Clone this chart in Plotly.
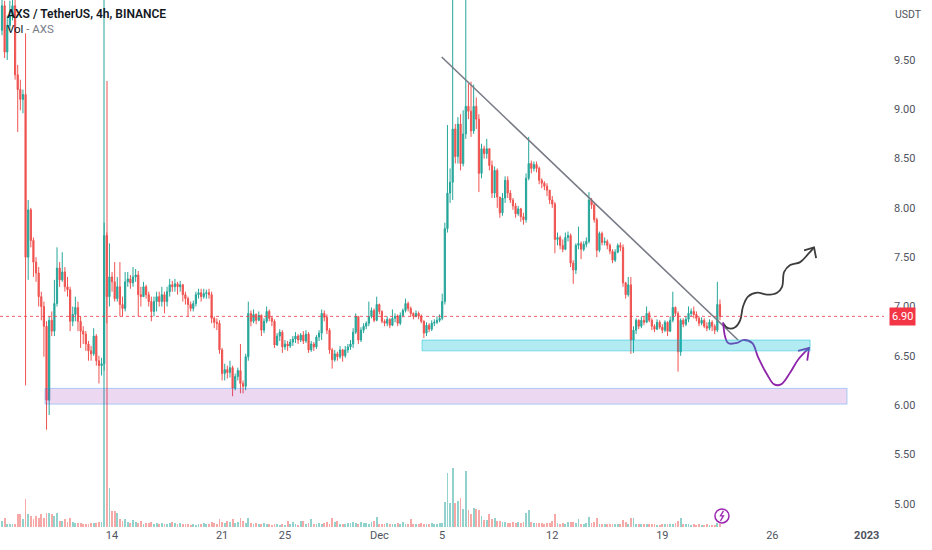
import pandas as pd
import plotly.graph_objects as go

# ==========================================================
# DATA - AXS / USDT 4h candles, 7 Nov -> 22 Dec 2022 (one line = one day)
# ==========================================================
first_open = 9.80

closes = [
    10.05, 9.58, 9.85, 9.95, 10.05, 9.35,   # Nov 7
    9.20, 9.10, 9.15, 7.50, 7.98, 7.67,     # Nov 8
    7.45, 7.34, 7.10, 7.00, 6.80, 6.05,     # Nov 9
    6.86, 6.75, 7.03, 7.39, 7.27, 7.35,     # Nov 10
    7.20, 7.17, 6.85, 6.92, 6.99, 6.85,     # Nov 11
    6.75, 6.72, 6.62, 6.55, 6.52, 6.70,     # Nov 12
    6.45, 6.40, 6.42, 7.72, 7.10, 7.30,     # Nov 13
    7.25, 7.08, 7.20, 7.02, 6.98, 7.25,     # Nov 14
    7.28, 7.24, 7.30, 7.32, 7.12, 7.10,     # Nov 15
    7.20, 7.12, 7.05, 6.95, 7.05, 7.10,     # Nov 16
    7.05, 7.12, 7.05, 7.15, 7.22, 7.20,     # Nov 17
    7.23, 7.20, 7.22, 7.12, 7.08, 7.02,     # Nov 18
    6.98, 7.03, 7.12, 7.14, 7.10, 7.13,     # Nov 19
    7.14, 7.12, 6.88, 6.84, 6.83, 6.56,     # Nov 20
    6.32, 6.36, 6.33, 6.38, 6.17, 6.29,     # Nov 21
    6.35, 6.22, 6.19, 6.49, 6.93, 6.85,     # Nov 22
    6.92, 6.86, 6.91, 6.76, 6.85, 6.95,     # Nov 23
    6.88, 6.85, 6.61, 6.70, 6.74, 6.59,     # Nov 24
    6.62, 6.60, 6.64, 6.67, 6.70, 6.66,     # Nov 25
    6.71, 6.65, 6.72, 6.56, 6.62, 6.59,     # Nov 26
    6.69, 6.73, 6.93, 6.89, 6.76, 6.56,     # Nov 27
    6.46, 6.52, 6.49, 6.56, 6.50, 6.56,     # Nov 28
    6.59, 6.62, 6.74, 6.90, 6.66, 6.76,     # Nov 29
    6.80, 6.83, 6.90, 6.96, 6.86, 7.02,     # Nov 30
    6.95, 6.85, 6.83, 6.87, 6.81, 6.88,     # Dec 1
    6.90, 6.83, 6.91, 6.96, 7.03, 6.98,     # Dec 2
    6.93, 6.90, 6.93, 6.90, 6.85, 6.73,     # Dec 3
    6.81, 6.77, 6.83, 6.84, 6.86, 6.88,     # Dec 4
    7.05, 7.79, 8.15, 8.26, 8.80, 8.52,     # Dec 5
    8.85, 8.45, 8.75, 9.03, 8.98, 8.78,     # Dec 6
    9.03, 8.90, 8.35, 8.60, 8.55, 8.60,     # Dec 7
    8.43, 8.15, 8.38, 8.11, 7.95, 8.10,     # Dec 8
    8.28, 8.15, 8.08, 8.02, 7.94, 7.99,     # Dec 9
    7.91, 7.88, 8.30, 8.45, 8.40, 8.44,     # Dec 10
    8.40, 8.28, 8.25, 8.22, 8.18, 8.08,     # Dec 11
    8.04, 7.68, 7.70, 7.62, 7.58, 7.70,     # Dec 12
    7.72, 7.44, 7.37, 7.62, 7.64, 7.58,     # Dec 13
    7.63, 7.66, 8.08, 8.03, 7.88, 7.57,     # Dec 14
    7.74, 7.65, 7.66, 7.62, 7.56, 7.47,     # Dec 15
    7.55, 7.62, 7.60, 7.24, 7.12, 7.22,     # Dec 16
    6.66, 6.76, 6.86, 6.80, 6.86, 6.84,     # Dec 17
    6.93, 6.86, 6.80, 6.77, 6.84, 6.79,     # Dec 18
    6.76, 6.84, 6.75, 6.86, 6.99, 6.93,     # Dec 19
    6.54, 6.86, 6.82, 6.87, 6.93, 6.95,     # Dec 20
    6.92, 6.88, 6.83, 6.86, 6.80, 6.78,     # Dec 21
    6.84, 6.80, 6.76, 7.02, 6.90,           # Dec 22
]

highs = [
    10.15, 10.10, 9.95, 10.10, 10.20, 10.15,
    9.45, 9.30, 9.20, 9.77, 8.08, 8.00,
    7.70, 7.50, 7.40, 7.15, 7.05, 6.85,
    6.90, 6.95, 7.27, 7.60, 7.45, 7.55,
    7.40, 7.30, 7.20, 7.00, 7.10, 7.05,
    6.90, 6.80, 6.75, 6.65, 6.60, 6.78,
    6.72, 6.50, 6.48, 7.85, 7.75, 7.64,
    7.35, 7.45, 7.30, 7.45, 7.10, 7.35,
    7.35, 7.32, 7.40, 7.38, 7.36, 7.20,
    7.25, 7.22, 7.15, 7.10, 7.10, 7.15,
    7.15, 7.20, 7.15, 7.20, 7.28, 7.26,
    7.28, 7.25, 7.26, 7.23, 7.15, 7.10,
    7.05, 7.06, 7.15, 7.18, 7.18, 7.18,
    7.17, 7.18, 7.15, 6.90, 6.88, 6.86,
    6.58, 6.42, 6.40, 6.45, 6.40, 6.32,
    6.38, 6.62, 6.25, 6.52, 7.05, 6.96,
    6.97, 6.93, 6.95, 6.92, 6.88, 7.00,
    6.97, 6.90, 6.87, 6.73, 6.77, 6.76,
    6.66, 6.65, 6.67, 6.70, 6.74, 6.72,
    6.73, 6.75, 6.76, 6.74, 6.65, 6.64,
    6.71, 6.76, 6.97, 6.96, 6.92, 6.78,
    6.58, 6.56, 6.54, 6.60, 6.57, 6.60,
    6.62, 6.66, 6.78, 6.93, 6.90, 6.79,
    6.83, 6.85, 7.05, 6.99, 6.98, 7.10,
    7.03, 6.96, 6.87, 6.90, 6.88, 6.97,
    6.93, 6.92, 6.94, 6.98, 7.08, 7.05,
    7.00, 6.94, 6.96, 6.95, 6.92, 6.86,
    6.84, 6.83, 6.86, 6.87, 6.90, 6.92,
    7.13, 7.85, 8.84, 8.40, 10.25, 8.85,
    8.92, 8.95, 8.99, 10.25, 9.26, 9.28,
    9.25, 9.12, 8.95, 8.65, 8.63, 8.70,
    8.60, 8.48, 8.42, 8.40, 8.10, 8.15,
    8.32, 8.32, 8.18, 8.10, 8.05, 8.02,
    8.00, 7.95, 8.35, 8.72, 8.48, 8.47,
    8.47, 8.42, 8.30, 8.27, 8.25, 8.18,
    8.12, 8.06, 7.75, 7.72, 7.68, 7.75,
    7.76, 7.74, 7.47, 7.64, 7.81, 7.66,
    7.66, 7.70, 8.16, 8.10, 8.05, 7.90,
    7.76, 7.76, 7.70, 7.68, 7.64, 7.58,
    7.58, 7.64, 7.65, 7.63, 7.25, 7.30,
    7.30, 6.80, 6.88, 6.87, 6.90, 6.90,
    7.00, 6.95, 6.88, 6.82, 6.87, 6.86,
    6.82, 6.86, 6.85, 6.90, 7.15, 7.00,
    6.95, 6.88, 6.88, 6.90, 7.00, 6.98,
    7.00, 6.95, 6.90, 6.89, 6.88, 6.84,
    6.87, 6.86, 6.82, 7.25, 7.07,
]

lows = [
    9.75, 9.52, 9.50, 9.80, 9.90, 9.30,
    8.77, 8.99, 8.96, 6.20, 7.27, 7.60,
    7.30, 7.25, 7.00, 6.86, 6.49, 5.75,
    5.90, 6.70, 6.70, 7.00, 7.20, 7.25,
    7.15, 7.10, 6.75, 6.80, 6.85, 6.75,
    6.58, 6.62, 6.55, 6.45, 6.45, 6.50,
    6.40, 6.22, 6.30, 6.35, 6.83, 7.00,
    7.15, 7.05, 7.05, 6.90, 6.90, 6.95,
    7.20, 7.18, 7.20, 7.25, 6.90, 7.00,
    7.10, 7.08, 7.00, 6.85, 6.90, 6.95,
    7.00, 7.00, 6.93, 7.00, 7.10, 7.15,
    7.15, 7.12, 7.15, 7.05, 7.02, 6.90,
    6.95, 6.95, 7.00, 7.08, 7.05, 7.08,
    7.08, 7.08, 6.83, 6.78, 6.76, 6.52,
    6.25, 6.25, 6.27, 6.28, 6.09, 6.15,
    6.25, 6.12, 6.12, 6.15, 6.45, 6.80,
    6.83, 6.82, 6.85, 6.70, 6.73, 6.83,
    6.85, 6.80, 6.58, 6.60, 6.65, 6.53,
    6.56, 6.55, 6.58, 6.60, 6.63, 6.62,
    6.64, 6.62, 6.63, 6.53, 6.54, 6.55,
    6.57, 6.65, 6.66, 6.85, 6.72, 6.52,
    6.37, 6.44, 6.45, 6.47, 6.44, 6.48,
    6.53, 6.56, 6.58, 6.72, 6.62, 6.64,
    6.73, 6.77, 6.80, 6.88, 6.84, 6.85,
    6.92, 6.83, 6.80, 6.80, 6.78, 6.80,
    6.84, 6.80, 6.81, 6.89, 6.94, 6.95,
    6.90, 6.87, 6.89, 6.87, 6.83, 6.68,
    6.70, 6.74, 6.75, 6.80, 6.82, 6.84,
    6.86, 7.02, 7.75, 8.05, 8.08, 8.45,
    8.45, 8.38, 8.42, 8.70, 8.90, 8.72,
    8.75, 8.80, 8.16, 8.30, 8.50, 8.50,
    8.38, 8.10, 8.10, 8.00, 7.90, 7.92,
    8.05, 8.10, 8.05, 7.98, 7.90, 7.92,
    7.86, 7.83, 7.85, 8.28, 8.35, 8.37,
    8.36, 8.24, 8.20, 8.18, 8.12, 8.04,
    8.00, 7.54, 7.62, 7.58, 7.55, 7.57,
    7.66, 7.40, 7.23, 7.33, 7.58, 7.48,
    7.56, 7.60, 7.64, 7.99, 7.85, 7.50,
    7.55, 7.62, 7.62, 7.58, 7.53, 7.44,
    7.45, 7.54, 7.56, 7.20, 7.08, 7.10,
    6.52, 6.53, 6.72, 6.77, 6.78, 6.81,
    6.83, 6.84, 6.76, 6.74, 6.76, 6.77,
    6.73, 6.74, 6.70, 6.74, 6.84, 6.90,
    6.34, 6.50, 6.79, 6.80, 6.84, 6.90,
    6.88, 6.85, 6.80, 6.81, 6.78, 6.75,
    6.76, 6.75, 6.72, 6.74, 6.86,
]

# volume (arbitrary units, overlay scale)
volumes = [
    6, 9, 3, 3, 3, 3,
    13, 13, 8, 28, 13, 11,
    8, 11, 9, 13, 9, 14,
    14, 13, 11, 14, 6, 6,
    8, 5, 9, 5, 4, 4,
    4, 3, 3, 3, 4, 4,
    4, 5, 5, 700, 446, 39,
    16, 16, 14, 8, 6, 8,
    5, 4, 7, 5, 4, 6,
    3, 4, 4, 5, 3, 4,
    3, 4, 3, 3, 4, 5,
    4, 3, 4, 3, 3, 3,
    2, 3, 2, 3, 3, 4,
    3, 3, 5, 4, 3, 8,
    5, 4, 6, 5, 8, 4,
    5, 9, 6, 4, 9, 4,
    3, 4, 3, 3, 4, 3,
    3, 2, 3, 3, 2, 3,
    2, 6, 3, 5, 3, 2,
    6, 6, 3, 4, 8, 3,
    3, 4, 3, 4, 5, 3,
    9, 5, 6, 3, 3, 3,
    4, 4, 5, 4, 3, 5,
    4, 4, 3, 5, 6, 10,
    3, 3, 3, 4, 3, 3,
    3, 4, 3, 5, 3, 3,
    8, 3, 3, 3, 4, 3,
    3, 3, 4, 3, 3, 4,
    4, 25, 54, 24, 59, 24,
    26, 29, 18, 56, 17, 13,
    19, 18, 17, 11, 7, 7,
    13, 8, 9, 6, 6, 5,
    5, 4, 4, 5, 4, 5,
    4, 5, 14, 17, 5, 4,
    4, 4, 4, 3, 4, 4,
    6, 13, 4, 3, 4, 3,
    5, 5, 5, 4, 8, 3,
    3, 4, 10, 4, 5, 9,
    3, 3, 3, 3, 3, 3,
    3, 3, 3, 7, 5, 3,
    9, 9, 3, 3, 3, 3,
    3, 3, 3, 3, 2, 2,
    3, 3, 3, 3, 3, 4,
    6, 9, 3, 3, 3, 2,
    3, 2, 3, 2, 2, 3,
    2, 2, 2, 4, 3,
]

last_price = 6.90
price_ticks = [5.0, 5.5, 6.0, 6.5, 7.0, 7.5, 8.0, 8.5, 9.0, 9.5]
date_ticks = ["2022-11-07", "2022-11-14", "2022-11-21", "2022-11-25", "2022-12-01",
              "2022-12-05", "2022-12-12", "2022-12-19", "2022-12-26", "2023-01-01"]
date_labels = ["7", "14", "21", "25", "Dec", "5", "12", "19", "26", "<b>2023</b>"]

# --- drawings (bar index from 7 Nov 00:00, price) ---
trend_bars = [167.8, 280.9]
trend_prices = [9.53, 6.66]

support_bars = [160.3, 308.4]
support_prices = [6.55, 6.66]
demand_bars = [16.4, 322.5]
demand_prices = [6.01, 6.17]

bull_bars = [275.2, 277.1, 279.8, 281.7, 282.8, 284.7, 288.2, 292.0, 295.8, 297.7, 298.5, 300.8, 304.6, 307.6, 309.9]
bull_prices = [6.83, 6.78, 6.79, 6.86, 7.00, 7.10, 7.14, 7.12, 7.14, 7.20, 7.35, 7.42, 7.45, 7.53, 7.60]
bull_head_bars = [306.1, 309.9, 310.7]
bull_head_prices = [7.57, 7.60, 7.49]

bear_bars = [275.2, 276.0, 277.1, 280.5, 282.8, 286.3, 288.5, 292.0, 294.7, 297.3, 300.8, 303.8, 308.0]
bear_prices = [6.84, 6.69, 6.63, 6.63, 6.66, 6.63, 6.49, 6.31, 6.21, 6.21, 6.33, 6.46, 6.58]
bear_head_bars = [303.8, 308.0, 307.3]
bear_head_prices = [6.55, 6.58, 6.45]

# ==========================================================
# FIGURE
# ==========================================================
UP = "#26a69a"
DOWN = "#ef5350"
AXIS_TXT = "#50535e"
FONT = "Roboto"

t0 = pd.Timestamp("2022-11-07")


def bar_time(b):
    return t0 + pd.Timedelta(hours=4 * b)


times = pd.date_range(t0, periods=len(closes), freq="4h")
opens = [first_open] + closes[:-1]
highs = [max(h, o, c) for h, o, c in zip(highs, opens, closes)]
lows = [min(l, o, c) for l, o, c in zip(lows, opens, closes)]
vol_colors = ["rgba(38,166,154,0.5)" if c >= o else "rgba(239,83,80,0.5)"
              for o, c in zip(opens, closes)]

fig = go.Figure()

# volume overlay
fig.add_trace(go.Bar(
    x=times, y=volumes, marker=dict(color=vol_colors, line=dict(width=0)),
    width=4 * 3600 * 1000 * 0.7, yaxis="y2", showlegend=False, hoverinfo="skip",
))

# candles
fig.add_trace(go.Candlestick(
    x=times, open=opens, high=highs, low=lows, close=closes,
    increasing=dict(line=dict(color=UP, width=1), fillcolor=UP),
    decreasing=dict(line=dict(color=DOWN, width=1), fillcolor=DOWN),
    whiskerwidth=0, showlegend=False,
))

# zones
fig.add_shape(type="rect", xref="x", yref="y",
              x0=bar_time(demand_bars[0]), x1=bar_time(demand_bars[1]),
              y0=demand_prices[0], y1=demand_prices[1],
              fillcolor="rgba(156,39,176,0.18)", line=dict(color="rgba(33,150,243,0.35)", width=1))
fig.add_shape(type="rect", xref="x", yref="y",
              x0=bar_time(support_bars[0]), x1=bar_time(support_bars[1]),
              y0=support_prices[0], y1=support_prices[1],
              fillcolor="rgba(0,188,212,0.30)", line=dict(color="rgba(0,188,212,0.45)", width=1))

# last price dotted line
fig.add_shape(type="line", xref="paper", yref="y", x0=0, x1=1, y0=last_price, y1=last_price,
              line=dict(color="rgba(242,54,69,0.8)", width=1, dash="dot"))

# trend line
fig.add_trace(go.Scatter(
    x=[bar_time(b) for b in trend_bars], y=trend_prices, mode="lines",
    line=dict(color="#787b86", width=1.6), showlegend=False, hoverinfo="skip",
))

# scenario arrows
for bars, prices, hb, hp, col in [
    (bull_bars, bull_prices, bull_head_bars, bull_head_prices, "#3d3d3d"),
    (bear_bars, bear_prices, bear_head_bars, bear_head_prices, "#8e24aa"),
]:
    fig.add_trace(go.Scatter(
        x=[bar_time(b) for b in bars], y=prices, mode="lines",
        line=dict(color=col, width=1.8, shape="spline", smoothing=1.0),
        showlegend=False, hoverinfo="skip",
    ))
    fig.add_trace(go.Scatter(
        x=[bar_time(b) for b in hb], y=hp, mode="lines",
        line=dict(color=col, width=1.8), showlegend=False, hoverinfo="skip",
    ))

# texts
fig.add_annotation(text="AXS / TetherUS, 4h, BINANCE", xref="paper", yref="paper",
                   x=0.006, y=1, xanchor="left", yanchor="top", yshift=-5, showarrow=False,
                   font=dict(family=FONT, size=12, color="#131722", weight=600))
fig.add_annotation(text="Vol <span style='color:#787b86'>- AXS</span>", xref="paper", yref="paper",
                   x=0.006, y=1, xanchor="left", yanchor="top", yshift=-20, showarrow=False,
                   font=dict(family=FONT, size=11.5, color="#131722"))
fig.add_annotation(text="USDT", xref="paper", yref="paper", x=1, y=1, xanchor="left",
                   yanchor="top", xshift=9, yshift=-6, showarrow=False,
                   font=dict(family=FONT, size=10.5, color=AXIS_TXT))
fig.add_annotation(text=f"{last_price:.2f}", xref="paper", yref="y", x=1, y=last_price,
                   xanchor="left", yanchor="middle", xshift=5, showarrow=False,
                   bgcolor="#f23645", borderpad=2,
                   font=dict(family=FONT, size=11, color="white"))

# event marker (lightning)
fig.add_shape(type="circle", xref="paper", yref="paper", xsizemode="pixel", ysizemode="pixel",
              xanchor=0.8167, yanchor=0.021, x0=-7, x1=7, y0=-7, y1=7,
              line=dict(color="#9c27b0", width=1.5), fillcolor="white")
fig.add_shape(type="path", xref="paper", yref="paper", xsizemode="pixel", ysizemode="pixel",
              xanchor=0.8167, yanchor=0.021, path="M 1.5,5 L -1.5,0 L 1.5,0 L -1.5,-5",
              line=dict(color="#9c27b0", width=1.3))

fig.update_layout(
    width=932, height=550,
    margin=dict(l=0, r=48, t=0, b=23),
    paper_bgcolor="white", plot_bgcolor="white",
    font=dict(family=FONT, size=11, color=AXIS_TXT),
    boxgap=0.35,
    bargap=0,
    xaxis=dict(
        type="date", rangeslider=dict(visible=False),
        range=[bar_time(-0.76), bar_time(336.6)],
        tickvals=date_ticks, ticktext=date_labels,
        showgrid=False, zeroline=False, showline=False, ticks="",
        tickfont=dict(family=FONT, size=11, color=AXIS_TXT),
    ),
    yaxis=dict(
        side="right", range=[4.764, 10.108],
        tickvals=price_ticks, tickformat=".2f",
        showgrid=False, zeroline=False, showline=False, ticks="",
        ticklabelstandoff=9,
        tickfont=dict(family=FONT, size=11, color=AXIS_TXT),
    ),
    yaxis2=dict(overlaying="y", range=[0, 527], visible=False, fixedrange=True),
    hovermode="closest",
)

# the page keeps the browser's default 8px body margin otherwise
fig.write_html("out.html", config={"displayModeBar": False},
               post_script="document.body.style.margin='0px';")
